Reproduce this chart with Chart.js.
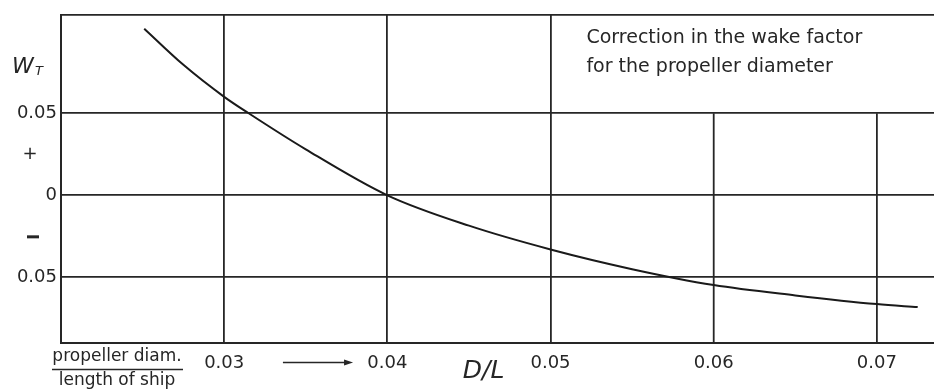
<!DOCTYPE html>
<html>
<head>
<meta charset="utf-8">
<script src="https://cdn.jsdelivr.net/npm/chart.js@4.4.1/dist/chart.umd.min.js"></script>
<style>
  html, body { margin: 0; padding: 0; background: #fff; }
  #wrap { width: 934px; height: 390px; }
</style>
</head>
<body>
<div id="wrap"><canvas id="chart"></canvas></div>
<script>
// D/L values
const dl = [0.0251, 0.0275, 0.030, 0.0315, 0.035, 0.040, 0.045, 0.050, 0.055, 0.060, 0.065, 0.070, 0.0725];
// correction in wake factor W_T
const wt = [0.1015, 0.0795, 0.060, 0.050, 0.028, 0.0, -0.0185, -0.033, -0.045, -0.0547, -0.061, -0.0663, -0.0681];

const xTicks = [0.02, 0.03, 0.04, 0.05, 0.06, 0.07];
const xLabels = ['', '0.03', '0.04', '0.05', '0.06', '0.07'];
const yTicks = [-0.09, -0.05, 0, 0.05, 0.11];
const yLabels = ['', '0.05', '0', '0.05', ''];
// lineas verticales que solo bajan desde 0.05 (hueco para la nota)
const shortGrid = [0.06, 0.07];

const ink = '#262626';
const fontName = '"DejaVu Sans", Verdana, sans-serif';

// textos extra: W_T, +/-, fraccion, flecha, D/L y nota
const extras = {
    id: 'extras',
    beforeDatasetsDraw(chart) {
        const ctx = chart.ctx;
        const xs = chart.scales.x, ys = chart.scales.y;
        ctx.save();
        ctx.strokeStyle = ink;
        ctx.lineWidth = 1.8;
        shortGrid.forEach(v => {
            const px = xs.getPixelForValue(v);
            ctx.beginPath();
            ctx.moveTo(px, ys.getPixelForValue(0.05));
            ctx.lineTo(px, chart.chartArea.bottom);
            ctx.stroke();
        });
        ctx.restore();
    },
    afterDraw(chart) {
        const ctx = chart.ctx;
        const xs = chart.scales.x, ys = chart.scales.y;
        ctx.save();
        ctx.fillStyle = ink;
        ctx.strokeStyle = ink;

        // W_T
        ctx.textBaseline = 'middle';
        ctx.textAlign = 'left';
        ctx.font = 'italic 22px ' + fontName;
        ctx.fillText('W', 12, 67);
        ctx.font = 'italic 13px ' + fontName;
        ctx.fillText('T', 35, 72);

        // + and -
        ctx.font = '18px ' + fontName;
        ctx.textAlign = 'center';
        ctx.fillText('+', 30, ys.getPixelForValue(0.025));
        ctx.fillRect(27, ys.getPixelForValue(-0.025) - 1, 12, 3);

        // fraccion
        ctx.font = '17px ' + fontName;
        ctx.fillText('propeller diam.', 117, 357);
        ctx.fillText('length of ship', 117, 381);
        ctx.lineWidth = 1.5;
        ctx.beginPath();
        ctx.moveTo(52, 369.5);
        ctx.lineTo(183, 369.5);
        ctx.stroke();

        // flecha
        const ay = 362.5;
        const ax0 = xs.getPixelForValue(0.0336), ax1 = xs.getPixelForValue(0.0379);
        ctx.beginPath();
        ctx.moveTo(ax0, ay);
        ctx.lineTo(ax1 - 6, ay);
        ctx.stroke();
        ctx.beginPath();
        ctx.moveTo(ax1, ay);
        ctx.lineTo(ax1 - 9, ay - 3);
        ctx.lineTo(ax1 - 9, ay + 3);
        ctx.closePath();
        ctx.fill();

        // D/L
        ctx.font = 'italic 25px ' + fontName;
        ctx.fillText('D/L', xs.getPixelForValue(0.0459), 371);

        // nota
        ctx.font = '19px ' + fontName;
        ctx.textAlign = 'left';
        ctx.fillText('Correction in the wake factor', xs.getPixelForValue(0.0522), 38);
        ctx.fillText('for the propeller diameter', xs.getPixelForValue(0.0522), 67);
        ctx.restore();
    }
};

new Chart(document.getElementById('chart'), {
    type: 'scatter',
    data: {
        datasets: [{
            data: dl.map((x, i) => ({ x: x, y: wt[i] })),
            showLine: true,
            borderColor: '#1a1a1a',
            borderWidth: 2,
            pointRadius: 0,
            cubicInterpolationMode: 'monotone'
        }]
    },
    options: {
        responsive: true,
        maintainAspectRatio: false,
        animation: false,
        layout: { padding: { top: 14, right: 0, left: 0, bottom: 0 } },
        plugins: {
            legend: { display: false },
            tooltip: { enabled: false }
        },
        scales: {
            x: {
                type: 'linear',
                min: 0.02,
                max: 0.0735,
                afterBuildTicks: (scale) => { scale.ticks = xTicks.map(v => ({ value: v })); },
                afterFit: (scale) => { scale.height = 47; },
                border: { display: true, color: ink, width: 2 },
                grid: {
                    color: (c) => (c.tick && shortGrid.includes(c.tick.value)) ? 'rgba(0,0,0,0)' : ink,
                    lineWidth: 1.8,
                    drawTicks: false
                },
                ticks: {
                    color: ink,
                    font: { family: fontName, size: 18 },
                    padding: 10,
                    maxRotation: 0,
                    callback: (v, i) => xLabels[i]
                }
            },
            y: {
                min: -0.09,
                max: 0.11,
                afterBuildTicks: (scale) => { scale.ticks = yTicks.map(v => ({ value: v })); },
                afterFit: (scale) => { scale.width = 61; },
                border: { display: true, color: ink, width: 2 },
                grid: { color: ink, lineWidth: 1.8, drawTicks: false },
                ticks: {
                    color: ink,
                    font: { family: fontName, size: 18 },
                    padding: 4,
                    callback: (v, i) => yLabels[i]
                }
            }
        }
    },
    plugins: [extras]
});
</script>
</body>
</html>
